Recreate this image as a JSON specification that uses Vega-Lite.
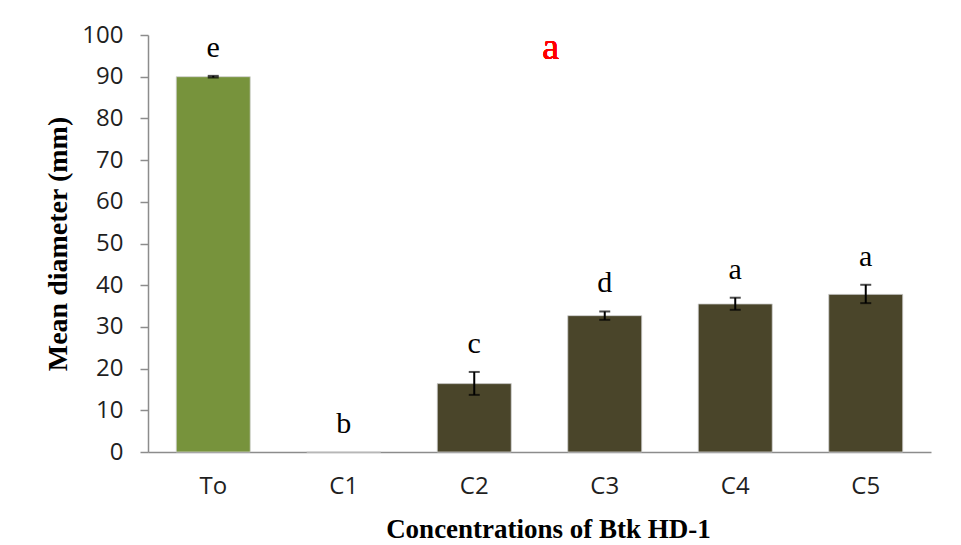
{
  "$schema": "https://vega.github.io/schema/vega-lite/v6.json",
  "width": 783,
  "height": 417,
  "autosize": {"type": "none"},
  "padding": {"left": 148, "top": 35, "right": 30, "bottom": 93},
  "background": "white",
  "config": {"view": {"stroke": null}},
  "data": {"values": [
    {"group": "To", "mean": 90, "lo": 89.8, "hi": 90.2, "letter": "e", "kind": "control"},
    {"group": "C1", "mean": 0, "lo": 0, "hi": 0, "letter": "b", "kind": "treat"},
    {"group": "C2", "mean": 16.4, "lo": 13.7, "hi": 19.2, "letter": "c", "kind": "treat"},
    {"group": "C3", "mean": 32.7, "lo": 31.7, "hi": 33.7, "letter": "d", "kind": "treat"},
    {"group": "C4", "mean": 35.5, "lo": 34.1, "hi": 37.0, "letter": "a", "kind": "treat"},
    {"group": "C5", "mean": 37.8, "lo": 35.7, "hi": 40.1, "letter": "a", "kind": "treat"}
  ]},
  "encoding": {
    "x": {
      "field": "group", "type": "nominal", "sort": null,
      "scale": {"paddingInner": 0.433, "paddingOuter": 0.2165},
      "axis": {
        "title": "Concentrations of Btk HD-1",
        "titleFont": "Liberation Serif", "titleFontSize": 27, "titleFontWeight": "bold", "titleColor": "black",
        "titlePadding": 18, "titleX": 400,
        "labelFont": "Open Sans", "labelFontSize": 24, "labelColor": "#1f1f1f", "labelPadding": 22,
        "labelAngle": 0,
        "ticks": false, "domainColor": "#8c8c8c", "domainWidth": 1.5
      }
    }
  },
  "layer": [
    {
      "mark": {"type": "bar", "stroke": "#d0d0d0", "strokeWidth": 0.8},
      "encoding": {
        "y": {
          "field": "mean", "type": "quantitative",
          "title": "Mean diameter (mm)",
          "scale": {"domain": [0, 100]},
          "axis": {
            "title": "Mean diameter (mm)",
            "titleFont": "Liberation Serif", "titleFontSize": 28, "titleFontWeight": "bold", "titleColor": "black",
            "titlePadding": 9,
            "labelFont": "Open Sans", "labelFontSize": 24, "labelColor": "#1f1f1f", "labelPadding": 17,
            "values": [0, 10, 20, 30, 40, 50, 60, 70, 80, 90, 100],
            "grid": false, "tickSize": 8, "tickColor": "#8c8c8c", "tickWidth": 1.5,
            "domainColor": "#8c8c8c", "domainWidth": 1.5
          }
        },
        "color": {
          "field": "kind", "type": "nominal",
          "scale": {"domain": ["control", "treat"], "range": ["#77933C", "#4A452A"]},
          "legend": null
        }
      }
    },
    {
      "transform": [{"filter": "datum.hi > datum.lo"}],
      "mark": {"type": "errorbar", "color": "black", "thickness": 2, "ticks": {"size": 11, "thickness": 2, "color": "black"}},
      "encoding": {
        "y": {"field": "lo", "type": "quantitative", "title": "Mean diameter (mm)"},
        "y2": {"field": "hi"}
      }
    },
    {
      "mark": {"type": "text", "font": "Liberation Serif", "fontSize": 30, "color": "black", "baseline": "middle", "dy": -28},
      "encoding": {
        "y": {"field": "hi", "type": "quantitative", "title": "Mean diameter (mm)"},
        "text": {"field": "letter"}
      }
    },
    {
      "mark": {"type": "text", "font": "Liberation Serif", "fontSize": 38, "fontWeight": "normal", "color": "#ff0000", "baseline": "middle", "dx": -54, "text": "a"},
      "encoding": {
        "x": {"datum": "C3"},
        "y": {"datum": 96.8, "title": "Mean diameter (mm)"}
      }
    }
  ]
}
